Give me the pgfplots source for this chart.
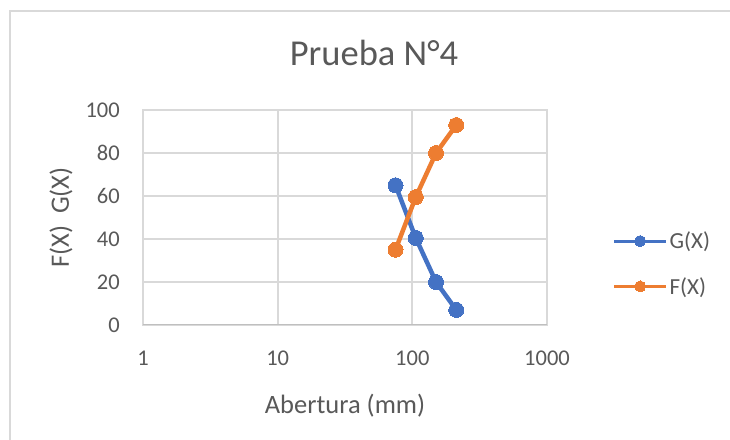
\documentclass[border=0pt]{standalone}
\usepackage{pgfplots}
\pgfplotsset{compat=1.18}
\usepackage{fontspec}
\setmainfont{Carlito}

\definecolor{gxblue}{HTML}{4472C4}
\definecolor{fxorange}{HTML}{ED7D31}
\definecolor{gridgray}{HTML}{D9D9D9}
\definecolor{axisgray}{HTML}{BFBFBF}
\definecolor{textgray}{HTML}{595959}

\begin{document}
\begin{tikzpicture}
\useasboundingbox (0,0) rectangle (730bp,440bp);
\clip (0,0) rectangle (730bp,440bp);
\fill[white] (0,0) rectangle (730bp,440bp);
% chart frame
\draw[gridgray, line width=1.8bp] (10bp,-10bp) -- (10bp,429bp) -- (745bp,429bp);
% chart title
\node[anchor=base, text=textgray, font=\fontsize{36.5bp}{42bp}\selectfont, inner sep=0pt]
  at (374bp,374bp) {Prueba N°4};

\begin{axis}[
  at={(143bp,115bp)}, anchor=south west,
  scale only axis, width=404bp, height=215bp,
  xmode=log, xmin=1, xmax=1000,
  ymin=0, ymax=100,
  xtick={1,10,100,1000}, xticklabels={1,10,100,1000},
  ytick={0,20,40,60,80,100},
  minor xtick={}, grid=major,
  major grid style={gridgray, line width=1.8bp},
  axis line style={gridgray, line width=1.8bp},
  tick style={draw=none},
  /pgf/number format/assume math mode=true,
  ticklabel style={text=textgray, font=\fontsize{22.5bp}{26bp}\selectfont, inner sep=0pt},
  yticklabel style={anchor=east, xshift=-23bp},
  xticklabel style={anchor=north, yshift=-26bp},
  xlabel={Abertura (mm)},
  ylabel={F(X)\ \ G(X)},
  label style={text=textgray, font=\fontsize{26.5bp}{30bp}\selectfont, inner sep=0pt},
  xlabel style={at={(axis description cs:0.5,0)}, anchor=base, yshift=-88bp},
  ylabel style={at={(axis description cs:0,0.5)}, anchor=center, yshift=82bp},
  legend style={at={(axis description cs:1.162,0.285)}, anchor=west, draw=none, fill=none,
    font=\fontsize{23bp}{27bp}\selectfont, text=textgray, row sep=23bp,
    inner sep=0pt, /tikz/every even column/.append style={column sep=3bp}},
  legend cell align=left,
  legend image code/.code={
    \draw[#1, line width=3bp, mark size=5.5bp, mark repeat=2, mark phase=2]
      plot coordinates {(0bp,0bp) (26bp,0bp) (52bp,0bp)};
  },
]
\draw[axisgray, line width=1.8bp] (axis cs:1,0) -- (axis cs:1000,0);

\addplot[gxblue, line width=4.5bp, mark=*, mark size=7.5bp,
  mark options={fill=gxblue, draw=gxblue, line width=0bp}]
  coordinates {(75,65) (106,40.5) (150,20) (212,7)};
\addlegendentry{G(X)}

\addplot[fxorange, line width=4.5bp, mark=*, mark size=7.5bp,
  mark options={fill=fxorange, draw=fxorange, line width=0bp}]
  coordinates {(75,35) (106,59.5) (150,80) (212,93)};
\addlegendentry{F(X)}
\end{axis}
\end{tikzpicture}
\end{document}
